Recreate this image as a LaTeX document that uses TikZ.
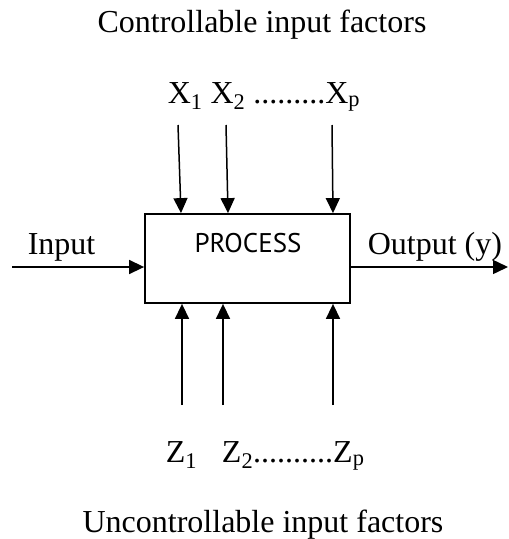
\documentclass[tikz,border=0pt]{standalone}
\usepackage{fontspec}
\setmainfont{Liberation Serif}
\newfontfamily\procfont{PT Sans}
\usetikzlibrary{arrows.meta, positioning, calc}
\tikzset{
  every picture/.style={line width=1.5pt},
  txt/.style={font=\fontsize{32}{38}\selectfont, inner sep=0pt, anchor=base},
  procbox/.style={draw, line width=1.8pt, minimum width=205pt, minimum height=89pt, inner sep=0pt},
  arrow/.style={-{Triangle[length=15pt, width=14pt]}, line width=1.5pt},
}

\begin{document}
\begin{tikzpicture}[x=1pt, y=-1pt]
  \useasboundingbox (0,0) rectangle (509,539);

  % ---- titles
  \node[txt] (ctitle) at (262,32)  {Controllable input factors};
  \node[txt] (utitle) at (263,532) {Uncontrollable input factors};

  % ---- process box
  \node[procbox] (proc) at (247.5,258.5) {};
  \node[txt, font=\procfont\fontsize{27}{32}\selectfont] (ptext) at (248,252) {PROCESS};

  % ---- factor labels
  \node[txt, anchor=base west] (xrow) at (167,103)
    {X\textsubscript{1} X\textsubscript{2} .........X\textsubscript{p}};
  \node[txt, anchor=base west] (zrow) at (165,462)
    {Z\textsubscript{1}\hspace{25pt}Z\textsubscript{2}..........Z\textsubscript{p}};

  \node[txt, anchor=base west] (in)  at (27,254)  {Input};
  \node[txt, anchor=base west] (out) at (367,254) {Output (y)};

  % ---- arrow tails
  \coordinate (x1) at (178,125);
  \coordinate (x2) at (226,125);
  \coordinate (xp) at (332,125);
  \coordinate (z1) at (182,405);
  \coordinate (z2) at (223,405);
  \coordinate (zp) at (333,405);
  \coordinate (src) at (12,267);
  \coordinate (snk) at (508,267);

  % controllable
  \draw[arrow] (x1) -- (181,0 |- proc.north);
  \draw[arrow] (x2) -- (228,0 |- proc.north);
  \draw[arrow] (xp) -- (333,0 |- proc.north);
  % uncontrollable
  \foreach \z in {z1, z2, zp} \draw[arrow] (\z) -- (\z |- proc.south);
  % input / output
  \draw[arrow] (src) -- (src -| proc.west);
  \draw[arrow] (snk -| proc.east) -- (snk);
\end{tikzpicture}
\end{document}
